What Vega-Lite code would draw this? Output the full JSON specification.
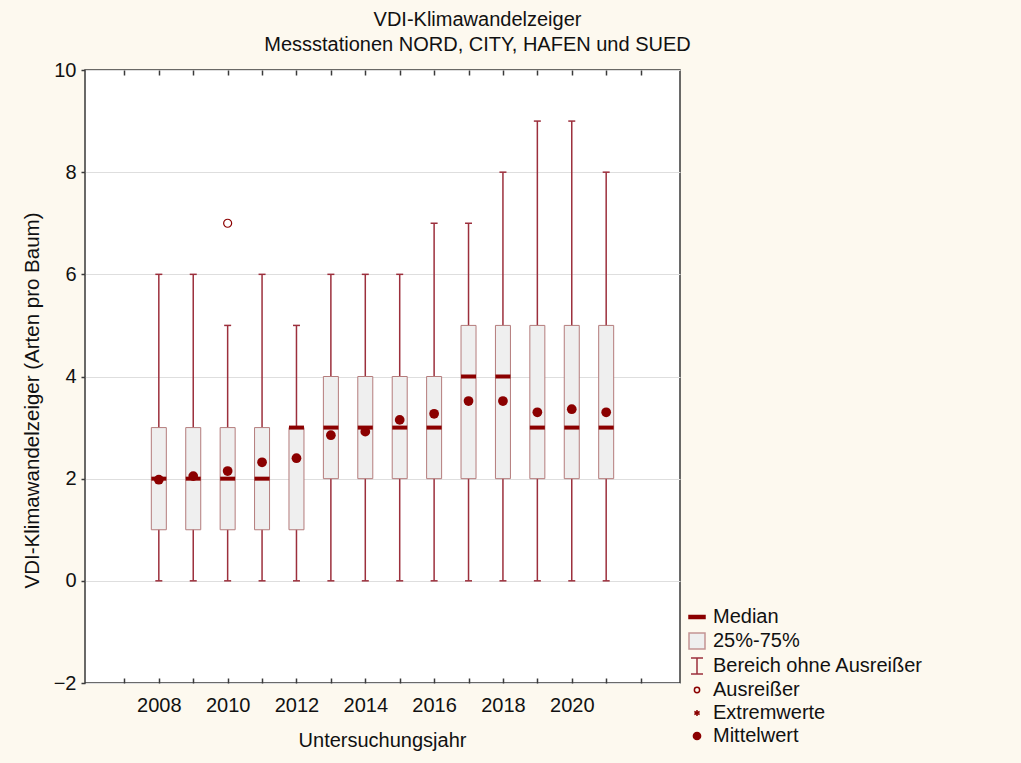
{
  "$schema": "https://vega.github.io/schema/vega-lite/v6.json",
  "autosize": {"type": "none"},
  "padding": {"left": 85, "top": 70, "right": 341, "bottom": 80},
  "width": 595,
  "height": 613,
  "background": "#fdf9ef",
  "view": {"fill": "white", "stroke": "#3a3a3a", "strokeWidth": 1.5},
  "config": {
    "font": "Liberation Sans",
    "view": {"fill": "white", "stroke": "#3a3a3a", "strokeWidth": 1.5},
    "axis": {"labelFont": "Liberation Sans", "titleFont": "Liberation Sans", "labelColor": "#111", "titleColor": "#111", "titleFontWeight": "normal"}
  },
  "title": {
    "text": ["VDI-Klimawandelzeiger", "Messstationen NORD, CITY, HAFEN und SUED"],
    "fontSize": 20,
    "fontWeight": "normal",
    "color": "#111",
    "font": "Liberation Sans",
    "lineHeight": 25,
    "anchor": "middle",
    "baseline": "bottom",
    "offset": 13,
    "dx": 95,
    "dy": 28
  },
  "datasets": {
    "boxes": [
      {"year": 2008, "min": 0, "q1": 1, "median": 2, "q3": 3, "max": 6, "mean": 1.98},
      {"year": 2009, "min": 0, "q1": 1, "median": 2, "q3": 3, "max": 6, "mean": 2.05},
      {"year": 2010, "min": 0, "q1": 1, "median": 2, "q3": 3, "max": 5, "mean": 2.15},
      {"year": 2011, "min": 0, "q1": 1, "median": 2, "q3": 3, "max": 6, "mean": 2.32},
      {"year": 2012, "min": 0, "q1": 1, "median": 3, "q3": 3, "max": 5, "mean": 2.4},
      {"year": 2013, "min": 0, "q1": 2, "median": 3, "q3": 4, "max": 6, "mean": 2.85},
      {"year": 2014, "min": 0, "q1": 2, "median": 3, "q3": 4, "max": 6, "mean": 2.92},
      {"year": 2015, "min": 0, "q1": 2, "median": 3, "q3": 4, "max": 6, "mean": 3.15},
      {"year": 2016, "min": 0, "q1": 2, "median": 3, "q3": 4, "max": 7, "mean": 3.27},
      {"year": 2017, "min": 0, "q1": 2, "median": 4, "q3": 5, "max": 7, "mean": 3.52},
      {"year": 2018, "min": 0, "q1": 2, "median": 4, "q3": 5, "max": 8, "mean": 3.52},
      {"year": 2019, "min": 0, "q1": 2, "median": 3, "q3": 5, "max": 9, "mean": 3.3},
      {"year": 2020, "min": 0, "q1": 2, "median": 3, "q3": 5, "max": 9, "mean": 3.36},
      {"year": 2021, "min": 0, "q1": 2, "median": 3, "q3": 5, "max": 8, "mean": 3.3}
    ],
    "outliers": [
      {"year": 2010, "value": 7}
    ],
    "legendItems": []
  },
  "resolve": {"axis": {"x": "independent"}},
  "layer": [
    {
      "data": {"name": "boxes"},
      "mark": {"type": "rule", "color": "#9c2f3c", "strokeWidth": 1.5},
      "encoding": {
        "x": {
          "field": "year", "type": "quantitative",
          "scale": {"domain": [2006, 2023], "nice": false, "zero": false},
          "axis": {
            "orient": "bottom",
            "values": [2007, 2008, 2009, 2010, 2011, 2012, 2013, 2014, 2015, 2016, 2017, 2018, 2019, 2020, 2021, 2022],
            "labelExpr": "(datum.value % 2 == 0 && datum.value <= 2020) ? format(datum.value, 'd') : ''",
            "grid": false,
            "domain": false,
            "tickSize": -5,
            "tickColor": "#3a3a3a",
            "tickWidth": 1.5,
            "labelFontSize": 20,
            "labelPadding": 17,
            "labelFlush": false,
            "labelOverlap": false,
            "title": "Untersuchungsjahr",
            "titleFontSize": 20,
            "titleBaseline": "alphabetic",
            "titleY": 63,
            "titleX": 297
          }
        },
        "y": {
          "field": "min", "type": "quantitative",
          "scale": {"domain": [-2, 10], "nice": false, "zero": false},
          "axis": {
            "values": [-2, 0, 2, 4, 6, 8, 10],
            "grid": true,
            "gridColor": "#dedede",
            "gridWidth": 1,
            "domain": false,
            "tickSize": 4,
            "tickColor": "#3a3a3a",
            "tickWidth": 1.5,
            "labelFontSize": 20,
            "labelPadding": 5,
            "title": "VDI-Klimawandelzeiger (Arten pro Baum)",
            "titleFontSize": 20.5,
            "titleAngle": -90,
            "titleAlign": "center",
            "titleBaseline": "middle",
            "titleX": -52.5,
            "titleY": 330
          }
        },
        "y2": {"field": "max"}
      }
    },
    {
      "data": {"name": "boxes"},
      "mark": {"type": "tick", "orient": "horizontal", "color": "#9c2f3c", "size": 7, "thickness": 1.5, "opacity": 1},
      "encoding": {
        "x": {"field": "year", "type": "quantitative", "axis": null},
        "y": {"field": "min", "type": "quantitative"}
      }
    },
    {
      "data": {"name": "boxes"},
      "mark": {"type": "tick", "orient": "horizontal", "color": "#9c2f3c", "size": 7, "thickness": 1.5, "opacity": 1},
      "encoding": {
        "x": {"field": "year", "type": "quantitative", "axis": null},
        "y": {"field": "max", "type": "quantitative"}
      }
    },
    {
      "data": {"name": "boxes"},
      "mark": {"type": "bar", "size": 15, "fill": "#efefef", "stroke": "#b47c7c", "strokeWidth": 1, "opacity": 1},
      "encoding": {
        "x": {"field": "year", "type": "quantitative", "axis": null},
        "y": {"field": "q1", "type": "quantitative"},
        "y2": {"field": "q3"}
      }
    },
    {
      "data": {"name": "boxes"},
      "mark": {"type": "tick", "orient": "horizontal", "color": "#8b0000", "size": 15, "thickness": 4, "opacity": 1},
      "encoding": {
        "x": {"field": "year", "type": "quantitative", "axis": null},
        "y": {"field": "median", "type": "quantitative"}
      }
    },
    {
      "data": {"name": "boxes"},
      "mark": {"type": "point", "shape": "circle", "filled": true, "color": "#8b0000", "opacity": 1, "size": 95},
      "encoding": {
        "x": {
          "field": "year", "type": "quantitative",
          "axis": {
            "orient": "top",
            "values": [2007, 2008, 2009, 2010, 2011, 2012, 2013, 2014, 2015, 2016, 2017, 2018, 2019, 2020, 2021, 2022],
            "labels": false,
            "grid": false,
            "domain": false,
            "tickSize": -5,
            "tickColor": "#3a3a3a",
            "tickWidth": 1.5,
            "minExtent": 0,
            "maxExtent": 0,
            "title": null
          }
        },
        "y": {"field": "mean", "type": "quantitative"}
      }
    },
    {
      "data": {"name": "outliers"},
      "mark": {"type": "point", "shape": "circle", "filled": false, "stroke": "#8b0000", "fill": "white", "strokeWidth": 1.2, "size": 64, "opacity": 1},
      "encoding": {
        "x": {"field": "year", "type": "quantitative", "axis": null},
        "y": {"field": "value", "type": "quantitative"}
      }
    },
    {
      "data": {"name": "legendItems"},
      "mark": {"type": "point", "filled": true, "strokeWidth": 1.5},
      "encoding": {
        "shape": {
          "field": "item", "type": "nominal", "sort": null,
          "scale": {
            "domain": ["Median", "25%-75%", "Bereich ohne Ausreißer", "Ausreißer", "Extremwerte", "Mittelwert"],
            "range": [
              "M-1,-0.2L1,-0.2L1,0.2L-1,0.2Z",
              "M-1,-1L1,-1L1,1L-1,1Z",
              "M-0.75,-1L0.75,-1M0,-1L0,1M-0.75,1L0.75,1",
              "M0.33,0A0.33,0.33,0,1,1,-0.33,0A0.33,0.33,0,1,1,0.33,0Z",
              "M0,-0.38L0,0.38M-0.33,-0.19L0.33,0.19M-0.33,0.19L0.33,-0.19",
              "M0.45,0A0.45,0.45,0,1,1,-0.45,0A0.45,0.45,0,1,1,0.45,0Z"
            ]
          },
          "legend": {"orient": "none", "legendX": 602, "legendY": 537, "title": null, "labelFontSize": 20, "labelFont": "Liberation Sans", "labelColor": "#111", "labelOffset": 6, "labelLimit": 400, "rowPadding": 3, "symbolSize": 256, "symbolStrokeWidth": 1.5, "symbolOpacity": 1, "padding": 0}
        },
        "fill": {
          "field": "item", "type": "nominal", "sort": null,
          "scale": {
            "domain": ["Median", "25%-75%", "Bereich ohne Ausreißer", "Ausreißer", "Extremwerte", "Mittelwert"],
            "range": ["#8b0000", "#efefef", "transparent", "transparent", "transparent", "#8b0000"]
          },
          "legend": {"orient": "none", "legendX": 602, "legendY": 537, "title": null, "labelFontSize": 20, "labelFont": "Liberation Sans", "labelColor": "#111", "labelOffset": 6, "labelLimit": 400, "rowPadding": 3, "symbolSize": 256, "symbolStrokeWidth": 1.5, "symbolOpacity": 1, "padding": 0}
        },
        "stroke": {
          "field": "item", "type": "nominal", "sort": null,
          "scale": {
            "domain": ["Median", "25%-75%", "Bereich ohne Ausreißer", "Ausreißer", "Extremwerte", "Mittelwert"],
            "range": ["#8b0000", "#c49494", "#9c2f3c", "#8b0000", "#8b0000", "#8b0000"]
          },
          "legend": {"orient": "none", "legendX": 602, "legendY": 537, "title": null, "labelFontSize": 20, "labelFont": "Liberation Sans", "labelColor": "#111", "labelOffset": 6, "labelLimit": 400, "rowPadding": 3, "symbolSize": 256, "symbolStrokeWidth": 1.5, "symbolOpacity": 1, "padding": 0}
        }
      }
    }
  ]
}
